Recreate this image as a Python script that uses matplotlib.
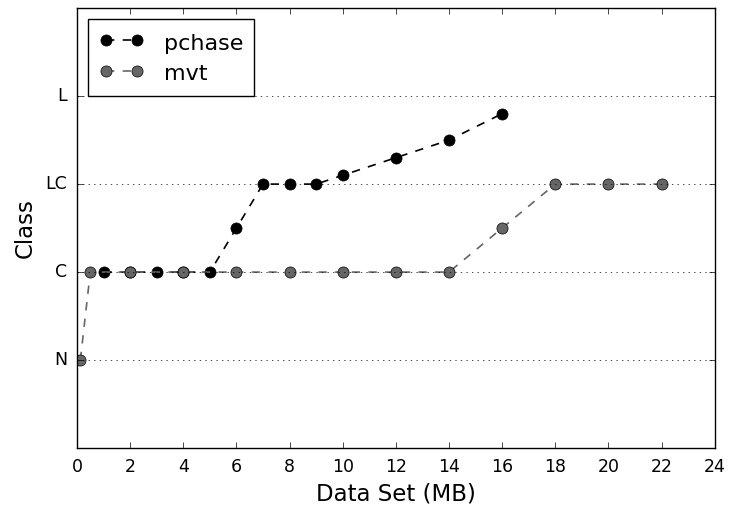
#!/usr/bin/env python3

import matplotlib
import matplotlib.pyplot as plt

matplotlib.use('Agg')
plt.style.use('classic')

# data set sizes (MB) and the class each tool assigns
pchase_size = [1, 2, 3, 4, 5, 6, 7, 8, 9, 10, 12, 14, 16]
pchase_class = [1, 1, 1, 1, 1, 1.5, 2, 2, 2, 2.1, 2.3, 2.5, 2.8]

mvt_size = [0.125, 0.5, 2, 4, 6, 8, 10, 12, 14, 16, 18, 20, 22]
mvt_class = [0, 1, 1, 1, 1, 1, 1, 1, 1, 1.5, 2, 2, 2]

class_ticks = [0, 1, 2, 3]
class_labels = ['N', 'C', 'LC', 'L']
x_ticks = list(range(0, 25, 2))


def run(figure: str):
    fig = plt.figure(figsize=(7.3, 5.08), dpi=100, facecolor='white')
    ax = fig.add_axes([0.1055, 0.118, 0.8735, 0.866])

    ax.plot(pchase_size, pchase_class, 'o--', color='black',
            markerfacecolor='black', markeredgecolor='black',
            markersize=8, linewidth=1.2, label='pchase')
    ax.plot(mvt_size, mvt_class, 'o--', color='0.4',
            markerfacecolor='0.4', markeredgecolor='black',
            markersize=8, linewidth=1.2, label='mvt')

    ax.set_xlim(0, 24)
    ax.set_ylim(-1, 4)
    ax.set_xticks(x_ticks)
    ax.set_yticks(class_ticks)
    ax.set_yticklabels(class_labels)
    ax.tick_params(labelsize=12.5)
    ax.tick_params(axis='x', pad=7)
    ax.tick_params(axis='y', pad=7)
    ax.yaxis.grid(True, linestyle=':', color='black')

    ax.set_xlabel('Data Set (MB)', fontsize=16.5, labelpad=5)
    ax.set_ylabel('Class', fontsize=16.5, labelpad=6)
    ax.legend(loc='upper left', numpoints=2, fontsize=16, borderpad=0.5,
              handleheight=1.3, labelspacing=0.28, handletextpad=0.9)

    fig.savefig(figure, dpi=100, facecolor='white')


if __name__ == '__main__':
    run('out.png')
